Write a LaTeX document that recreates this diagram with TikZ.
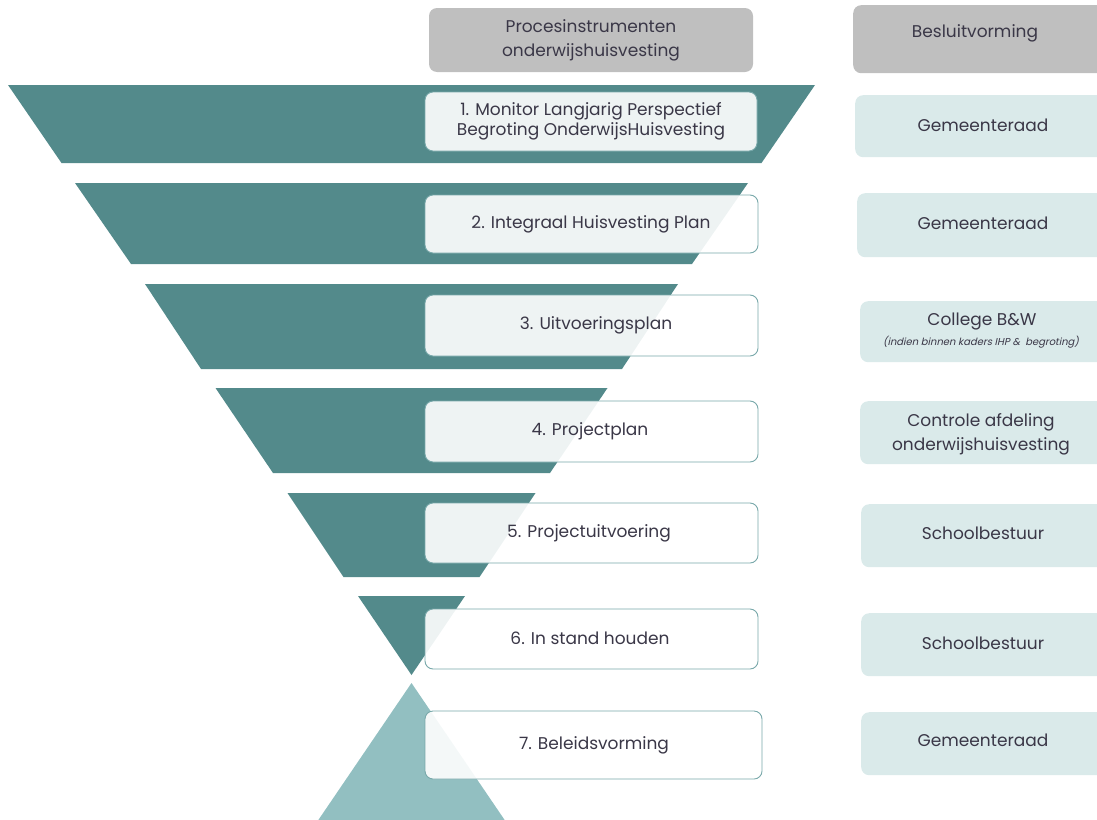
\documentclass[tikz,border=0pt]{standalone}
\usepackage{fontspec}
\setmainfont{Poppins}
\newfontfamily\slantfont[FakeSlant=0.22]{Poppins}
\definecolor{tealA}{HTML}{538A8B}
\definecolor{tealB}{HTML}{92BFC1}
\definecolor{hdr}{HTML}{BFBFBF}
\definecolor{rbox}{HTML}{DAEAEA}
\definecolor{txt}{HTML}{3A3747}
\definecolor{bord}{HTML}{78A8AA}
\newcommand\mainfs{\fontsize{17}{20}\selectfont}
\newcommand\trap[4]{\fill[tealA] ({411.5-#3},#1) -- ({411.5+#3},#1) -- ({411.5+#4},#2) -- ({411.5-#4},#2) -- cycle;}
\tikzset{
  midbox/.style={draw=bord, line width=0.9pt, fill=white, fill opacity=0.9, text opacity=1, rounded corners=8pt, inner sep=0pt},
  hdrbox/.style={fill=hdr, rounded corners=8pt, inner sep=0pt},
  rightbox/.style={fill=rbox, rounded corners=8pt, inner sep=0pt},
  lbl/.style={text=txt, font=\mainfs, align=center, inner sep=0pt},
}
\begin{document}
\begin{tikzpicture}[x=1pt,y=-1pt]
\useasboundingbox (0,0) rectangle (1097,819);
\clip (0,0) rectangle (1097,819);
% funnel
\trap{85}{163}{403.5}{350}
\trap{183}{264}{336.5}{280.5}
\trap{284}{369}{266.5}{210.5}
\trap{388}{473}{196}{138.5}
\trap{493}{577}{124}{68}
\fill[tealA] (358,596) -- (465,596) -- (411.5,675) -- cycle;
\fill[tealB] (411.5,683) -- ({411.5+0.68*150},833) -- ({411.5-0.68*150},833) -- cycle;
% header boxes
\node[hdrbox, minimum width=324pt, minimum height=64pt] (h1) at (591,40) {};
\node[lbl, font=\fontsize{17}{24}\selectfont] (h1t) at (591,40) {Procesinstrumenten\\onderwijshuisvesting};
\node[hdrbox, minimum width=260pt, minimum height=68pt, anchor=north west] (h2) at (853,5) {};
\node[lbl] (h2t) at (975,33) {Besluitvorming};
% middle boxes
\node[midbox, minimum width=332pt, minimum height=59pt] (m1) at (591,121.5) {};
\node[lbl, font=\fontsize{17}{20}\selectfont] (m1t) at (591,121) {1. Monitor Langjarig Perspectief\\Begroting OnderwijsHuisvesting};
\node[midbox, minimum width=333pt, minimum height=58pt] (m2) at (591.5,224) {};
\node[lbl] (m2t) at (591,224) {2. Integraal Huisvesting Plan};
\node[midbox, minimum width=333pt, minimum height=61pt] (m3) at (591.5,325.5) {};
\node[lbl] (m3t) at (596,325) {3. Uitvoeringsplan};
\node[midbox, minimum width=333pt, minimum height=61pt] (m4) at (591.5,431.5) {};
\node[lbl] (m4t) at (590,431) {4. Projectplan};
\node[midbox, minimum width=333pt, minimum height=60pt] (m5) at (591.5,533) {};
\node[lbl] (m5t) at (589,533) {5. Projectuitvoering};
\node[midbox, minimum width=333pt, minimum height=60pt] (m6) at (591.5,639) {};
\node[lbl] (m6t) at (590,638) {6. In stand houden};
\node[midbox, minimum width=337pt, minimum height=68pt] (m7) at (593.5,745) {};
\node[lbl] (m7t) at (594,745) {7. Beleidsvorming};
% right boxes
\node[rightbox, minimum width=260pt, minimum height=62pt, anchor=north west] (r1) at (855,95) {};
\node[lbl] (r1t) at (983,125) {Gemeenteraad};
\node[rightbox, minimum width=260pt, minimum height=64pt, anchor=north west] (r2) at (857,193) {};
\node[lbl] (r2t) at (983,223) {Gemeenteraad};
\node[rightbox, minimum width=260pt, minimum height=61pt, anchor=north west] (r3) at (860,301) {};
\node[lbl] (r3t) at (982,322) {College B\&W};
\node[text=txt, font=\slantfont\fontsize{10}{12}\selectfont, inner sep=0pt] (r3s) at (981,342) {(indien binnen kaders IHP \&\ \ begroting)};
\node[rightbox, minimum width=260pt, minimum height=63pt, anchor=north west] (r4) at (860,401) {};
\node[lbl, font=\fontsize{17}{24}\selectfont] (r4t) at (981,434) {Controle afdeling\\onderwijshuisvesting};
\node[rightbox, minimum width=260pt, minimum height=63pt, anchor=north west] (r5) at (861,504) {};
\node[lbl] (r5t) at (983,533) {Schoolbestuur};
\node[rightbox, minimum width=260pt, minimum height=63pt, anchor=north west] (r6) at (861,613) {};
\node[lbl] (r6t) at (983,643) {Schoolbestuur};
\node[rightbox, minimum width=260pt, minimum height=63pt, anchor=north west] (r7) at (861,712) {};
\node[lbl] (r7t) at (983,740) {Gemeenteraad};
\end{tikzpicture}
\end{document}
